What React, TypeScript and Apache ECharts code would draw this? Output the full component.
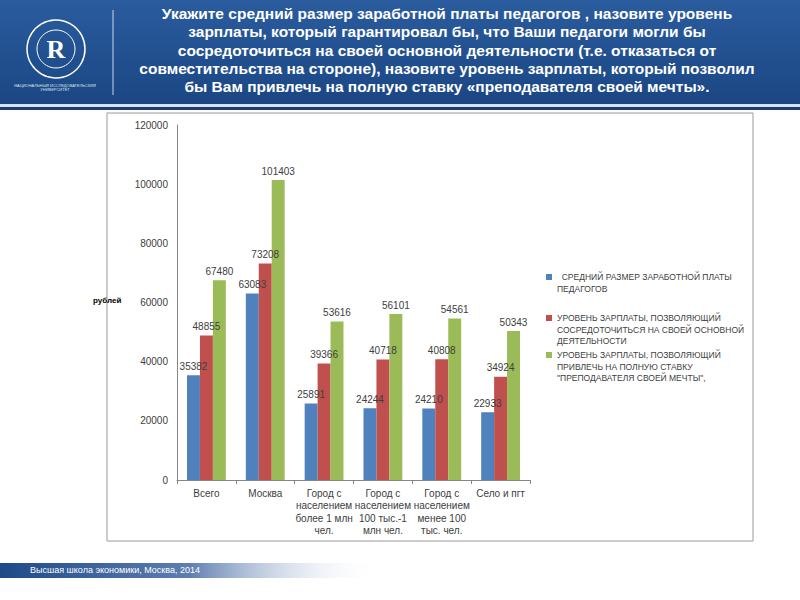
import React, { useEffect, useRef } from 'react';
import * as echarts from 'echarts';

const categories = [
  'Всего',
  'Москва',
  'Город с\nнаселением\nболее 1 млн\nчел.',
  'Город с\nнаселением\n100 тыс.-1\nмлн чел.',
  'Город с\nнаселением\nменее 100\nтыс. чел.',
  'Село и пгт',
];

const avgSalary = [35382, 63083, 25891, 24244, 24210, 22933];
const focusSalary = [48855, 73208, 39366, 40718, 40808, 34924];
const dreamSalary = [67480, 101403, 53616, 56101, 54561, 50343];

const seriesNames = [
  'СРЕДНИЙ РАЗМЕР ЗАРАБОТНОЙ ПЛАТЫ ПЕДАГОГОВ',
  'УРОВЕНЬ ЗАРПЛАТЫ, ПОЗВОЛЯЮЩИЙ СОСРЕДОТОЧИТЬСЯ НА СВОЕЙ ОСНОВНОЙ ДЕЯТЕЛЬНОСТИ',
  'УРОВЕНЬ ЗАРПЛАТЫ, ПОЗВОЛЯЮЩИЙ ПРИВЛЕЧЬ НА ПОЛНУЮ СТАВКУ "ПРЕПОДАВАТЕЛЯ СВОЕЙ МЕЧТЫ"',
];

// legend labels wrapped the way the slide shows them
const legendLabels = [
  '  СРЕДНИЙ РАЗМЕР ЗАРАБОТНОЙ ПЛАТЫ\nПЕДАГОГОВ',
  'УРОВЕНЬ ЗАРПЛАТЫ, ПОЗВОЛЯЮЩИЙ\nСОСРЕДОТОЧИТЬСЯ НА СВОЕЙ ОСНОВНОЙ\nДЕЯТЕЛЬНОСТИ',
  'УРОВЕНЬ ЗАРПЛАТЫ, ПОЗВОЛЯЮЩИЙ\nПРИВЛЕЧЬ НА ПОЛНУЮ СТАВКУ\n"ПРЕПОДАВАТЕЛЯ СВОЕЙ МЕЧТЫ",',
];

const titleLines = [
  'Укажите средний размер заработной платы педагогов , назовите уровень',
  'зарплаты, который гарантировал бы, что Ваши педагоги могли бы',
  'сосредоточиться на своей основной деятельности (т.е. отказаться от',
  'совместительства на стороне), назовите уровень зарплаты, который позволил',
  'бы Вам привлечь на полную ставку «преподавателя своей мечты».',
];

const colors = ['#4F81BD', '#C0504D', '#9BBB59'];
// y of each legend square's centre
const legendCentres = [277, 318, 355];
const LINE_H = 11.5;

const App: React.FC = () => {
  const chartRef = useRef<HTMLDivElement>(null);

  useEffect(() => {
    if (!chartRef.current) return;
    const chart = echarts.init(chartRef.current, null, { renderer: 'svg' });
    const font = '"Liberation Sans", Arial, sans-serif';
    const values = [avgSalary, focusSalary, dreamSalary];

    const option: echarts.EChartsOption = {
      animation: false,
      backgroundColor: '#ffffff',
      textStyle: { fontFamily: font },
      grid: { left: 177, right: 270, top: 125, bottom: 120 },
      xAxis: {
        type: 'category',
        data: categories,
        axisLine: { lineStyle: { color: '#868686' } },
        axisTick: { show: true, length: 4, lineStyle: { color: '#868686' } },
        axisLabel: {
          color: '#404040',
          fontSize: 10,
          lineHeight: 12.5,
          margin: 7,
          interval: 0,
        },
      },
      yAxis: {
        type: 'value',
        min: 0,
        max: 120000,
        interval: 20000,
        axisLine: { show: true, lineStyle: { color: '#868686' } },
        axisTick: { show: false },
        splitLine: { show: false },
        axisLabel: {
          color: '#404040',
          fontSize: 10,
          margin: 9,
          formatter: (v: number) => String(v),
        },
      },
      legend: legendCentres.map((cy, i) => {
        const lines = legendLabels[i].split('\n');
        // legend text is centred on its square, so blank lines above
        // push the first real line level with the square
        const padded = [...lines.slice(1).map(() => ' '), ...lines].join('\n');
        const blockH = (lines.length * 2 - 1) * LINE_H;
        return {
          data: [seriesNames[i]],
          left: 546,
          top: cy - blockH / 2,
          padding: 0,
          orient: 'vertical',
          icon: 'rect',
          itemWidth: 6,
          itemHeight: 6,
          itemGap: 0,
          selectedMode: false,
          formatter: () => padded,
          textStyle: {
            color: '#404040',
            fontSize: 8.5,
            lineHeight: LINE_H,
          },
        };
      }),
      series: values.map((arr, i) => ({
        name: seriesNames[i],
        type: 'bar',
        data: arr,
        barGap: '0%',
        barCategoryGap: '34%',
        itemStyle: { color: colors[i] },
        label: {
          show: true,
          position: 'top',
          distance: 4,
          color: '#404040',
          fontSize: 10,
        },
      })),
      graphic: [
        // header band
        {
          type: 'rect',
          shape: { x: 0, y: 0, width: 800, height: 104 },
          style: {
            fill: new echarts.graphic.LinearGradient(0, 0, 0, 1, [
              { offset: 0, color: '#2a5c9e' },
              { offset: 1, color: '#1b4683' },
            ]),
          },
          z: -10,
        },
        {
          type: 'rect',
          shape: { x: 0, y: 104, width: 800, height: 3 },
          style: { fill: '#d3e2f4' },
          z: -10,
        },
        {
          type: 'rect',
          shape: { x: 0, y: 107, width: 800, height: 3 },
          style: { fill: '#213c6c' },
          z: -10,
        },
        // logo
        {
          type: 'circle',
          shape: { cx: 56, cy: 49, r: 29 },
          style: { fill: 'none', stroke: '#ffffff', lineWidth: 1.5 },
        },
        {
          type: 'circle',
          shape: { cx: 56, cy: 49, r: 19 },
          style: { fill: 'none', stroke: '#ffffff', lineWidth: 1 },
        },
        {
          type: 'text',
          x: 56,
          y: 49,
          style: {
            text: 'R',
            fill: '#ffffff',
            font: 'bold 26px "Liberation Serif", serif',
            align: 'center',
            verticalAlign: 'middle',
          },
        },
        {
          type: 'text',
          x: 55,
          y: 83,
          style: {
            text: 'НАЦИОНАЛЬНЫЙ ИССЛЕДОВАТЕЛЬСКИЙ\nУНИВЕРСИТЕТ',
            fill: '#d8e2f0',
            font: '4px sans-serif',
            lineHeight: 4.5,
            align: 'center',
          },
        },
        {
          type: 'line',
          shape: { x1: 113, y1: 10, x2: 113, y2: 95 },
          style: { stroke: '#c9d6ea', lineWidth: 1 },
        },
        // title
        {
          type: 'text',
          x: 447,
          y: 4,
          style: {
            text: titleLines.join('\n'),
            fill: '#ffffff',
            font: `bold 15.5px ${font}`,
            lineHeight: 18.4,
            align: 'center',
          },
        },
        // chart frame
        {
          type: 'rect',
          shape: { x: 107, y: 113, width: 646, height: 428 },
          style: { fill: '#ffffff', stroke: '#9a9a9a', lineWidth: 1 },
          z: -5,
        },
        {
          type: 'text',
          left: 93,
          top: 296,
          style: {
            text: 'рублей',
            fill: '#000000',
            font: `bold 8px ${font}`,
          },
        },
        // footer
        {
          type: 'rect',
          shape: { x: 0, y: 563, width: 380, height: 15 },
          style: {
            fill: new echarts.graphic.LinearGradient(0, 0, 1, 0, [
              { offset: 0, color: '#1d4a88' },
              { offset: 0.5, color: '#5f7fb0' },
              { offset: 1, color: 'rgba(255,255,255,0)' },
            ]),
          },
          z: -10,
        },
        {
          type: 'text',
          left: 30,
          top: 565,
          style: {
            text: 'Высшая школа экономики, Москва, 2014',
            fill: '#ffffff',
            font: `9px ${font}`,
          },
        },
      ],
    };

    chart.setOption(option);
    return () => chart.dispose();
  }, []);

  return (
    <div
      ref={chartRef}
      style={{ position: 'fixed', left: 0, top: 0, width: 800, height: 600 }}
    />
  );
};

export default App;
